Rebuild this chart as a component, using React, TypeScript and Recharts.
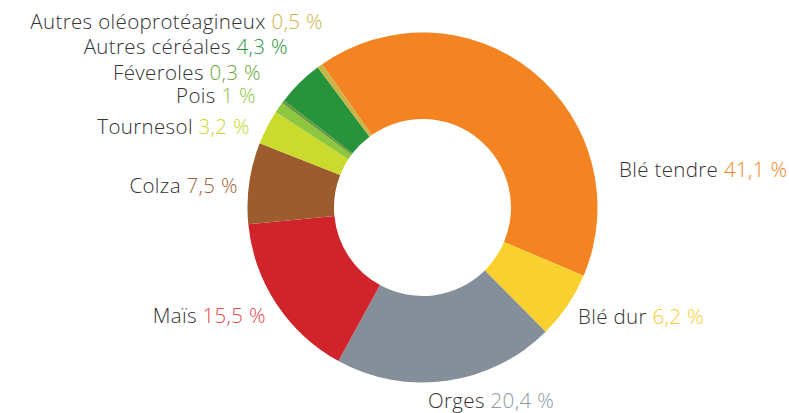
import React from "react";
import { PieChart, Pie, Cell } from "recharts";

const categories = [
  "Blé tendre",
  "Blé dur",
  "Orges",
  "Maïs",
  "Colza",
  "Tournesol",
  "Pois",
  "Féveroles",
  "Autres céréales",
  "Autres oléoprotéagineux",
];
const shares = [41.1, 6.2, 20.4, 15.5, 7.5, 3.2, 1, 0.3, 4.3, 0.5];
const valueLabels = ["41,1 %", "6,2 %", "20,4 %", "15,5 %", "7,5 %", "3,2 %", "1 %", "0,3 %", "4,3 %", "0,5 %"];

const sliceColors = ["#F48422", "#F8D12E", "#848F9A", "#D1232A", "#9C5C2E", "#CADB2E", "#8DC63F", "#6A9A3A", "#27933B", "#C9B546"];
const valueColors = ["#F48422", "#F8C92E", "#8A97A4", "#E8474A", "#A0603A", "#C5D62E", "#8DC63F", "#6AA53A", "#27933B", "#C9B546"];

// label placement relative to pie center (layout only)
const labelLayout: { dx: number; dy: number; anchor: "start" | "end" }[] = [
  { dx: 196.5, dy: -30.5, anchor: "start" },
  { dx: 155.5, dy: 116.5, anchor: "start" },
  { dx: 5.5, dy: 200.5, anchor: "start" },
  { dx: -156.5, dy: 115.5, anchor: "end" },
  { dx: -184.5, dy: -14.5, anchor: "end" },
  { dx: -172.5, dy: -73.5, anchor: "end" },
  { dx: -166.5, dy: -104.5, anchor: "end" },
  { dx: -161.5, dy: -127.5, anchor: "end" },
  { dx: -134.5, dy: -153.5, anchor: "end" },
  { dx: -99.5, dy: -178.5, anchor: "end" },
];

const data = categories.map((name, i) => ({ name, value: shares[i] }));

const renderLabel = (props: any) => {
  const { cx, cy, index } = props;
  const l = labelLayout[index];
  return (
    <text
      x={cx + l.dx}
      y={cy + l.dy}
      textAnchor={l.anchor}
      fontFamily="'Open Sans', sans-serif"
      fontWeight={300}
      fontSize={20.5}
      letterSpacing={0.35}
      fill="#333333"
    >
      {categories[index]}{" "}
      <tspan fill={valueColors[index]}>{valueLabels[index]}</tspan>
    </text>
  );
};

export default function App() {
  return (
    <div style={{ position: "absolute", left: 0, top: 0, width: 789, height: 413, background: "#fff" }}>
      <PieChart width={789} height={413} margin={{ top: 0, right: 0, bottom: 0, left: 0 }}>
        <Pie
          data={data}
          dataKey="value"
          nameKey="name"
          cx={422.5}
          cy={207.5}
          innerRadius={88.5}
          outerRadius={175}
          startAngle={125}
          endAngle={-235}
          stroke="none"
          label={renderLabel}
          labelLine={false}
          isAnimationActive={false}
        >
          {data.map((d, i) => (
            <Cell key={d.name} fill={sliceColors[i]} />
          ))}
        </Pie>
      </PieChart>
    </div>
  );
}
